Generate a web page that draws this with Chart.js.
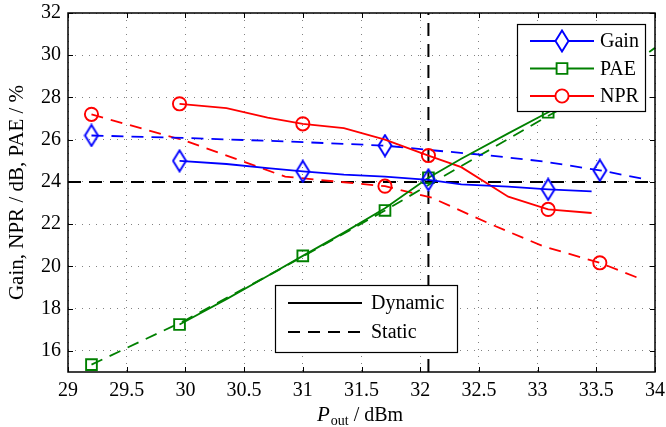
<!DOCTYPE html>
<html>
<head>
<meta charset="utf-8">
<script src="https://cdn.jsdelivr.net/npm/chart.js@4.4.0/dist/chart.umd.min.js"></script>
<style>
    html, body { margin: 0; padding: 0; background: #fff; }
</style>
</head>
<body>
<canvas id="poutChart" width="666" height="427"></canvas>
<script>
// Данные

const xTicks = [29, 29.5, 30, 30.5, 31, 31.5, 32, 32.5, 33, 33.5, 34];
const yTicks = [16, 18, 20, 22, 24, 26, 28, 30, 32];

const dynPout = [29.95, 30.35, 30.7, 31.0, 31.35, 31.7, 32.07, 32.35, 32.75, 33.09, 33.46];
const dynGain = [25.0, 24.85, 24.65, 24.5, 24.35, 24.25, 24.1, 23.88, 23.78, 23.65, 23.55];
const dynPAE  = [17.25, 18.45, 19.55, 20.5, 21.6, 22.75, 24.2, 25.1, 26.3, 27.3, 28.3];
const dynNPR  = [27.7, 27.5, 27.05, 26.75, 26.55, 26.0, 25.25, 24.7, 23.3, 22.7, 22.53];
const dynMarks = [0, 3, 6, 9];

const stPout = [29.2, 30.0, 30.85, 31.7, 32.1, 32.6, 33.05, 33.53, 33.9];
const stGain = [26.2, 26.08, 25.92, 25.72, 25.5, 25.25, 24.97, 24.55, 24.15];
const stNPR  = [27.2, 25.95, 24.25, 23.8, 23.25, 22.0, 20.95, 20.17, 19.36];
const stPAEPout = [29.2, 30.0, 30.85, 31.7, 32.1, 32.6, 33.05, 33.53, 33.9, 34.0];
const stPAE  = [15.35, 17.45, 20.0, 22.65, 23.95, 25.55, 27.0, 28.5, 29.95, 30.35];
const stMarks = [0, 3, 7];

const refGain = 24;
const refPout = 32.07;

const seriesNames = ['Gain', 'PAE', 'NPR'];
const modeNames = ['Dynamic', 'Static'];

const blue = 'rgba(0, 0, 255, 1)';
const green = 'rgba(0, 128, 0, 1)';
const red = 'rgba(255, 0, 0, 1)';
const serif = 'Liberation Serif';

// Маркер-ромб (вытянутый по вертикали)
function makeDiamond(color) {
    const c = document.createElement('canvas');
    c.width = 16;
    c.height = 24;
    const g = c.getContext('2d');
    g.strokeStyle = color;
    g.lineWidth = 1.9;
    g.beginPath();
    g.moveTo(8, 1.5); g.lineTo(14.5, 12); g.lineTo(8, 22.5); g.lineTo(1.5, 12);
    g.closePath();
    g.stroke();
    return c;
}
const diamond = makeDiamond(blue);

const markers = [
    { style: diamond, r: 8 },
    { style: 'rect', r: 7.6 },
    { style: 'circle', r: 6.6 },
];
const colors = [blue, green, red];

function series(label, xs, ys, idx, marks, dashed) {
    return {
        label: label,
        data: xs.map((x, i) => ({ x: x, y: ys[i] })),
        borderColor: colors[idx],
        borderWidth: 1.8,
        borderDash: dashed ? [12, 8] : [],
        pointStyle: markers[idx].style,
        pointRadius: ctx => marks.includes(ctx.dataIndex) ? markers[idx].r : 0,
        pointBorderColor: colors[idx],
        pointBackgroundColor: 'rgba(0, 0, 0, 0)',
        pointBorderWidth: 1.9,
        tension: 0,
        fill: false,
        order: 1,
    };
}

// Рамка, внутренние засечки, легенды, подписи осей
const decorPlugin = {
    id: 'decor',
    afterDatasetsDraw(chart) {
        const ctx = chart.ctx;
        const a = chart.chartArea;
        const sx = chart.scales.x;
        const sy = chart.scales.y;
        ctx.save();

        ctx.strokeStyle = '#000';
        ctx.lineWidth = 1.5;
        ctx.setLineDash([]);
        ctx.strokeRect(a.left, a.top, a.right - a.left, a.bottom - a.top);

        ctx.lineWidth = 1;
        ctx.beginPath();
        xTicks.forEach(v => {
            const px = Math.round(sx.getPixelForValue(v)) + 0.5;
            ctx.moveTo(px, a.bottom); ctx.lineTo(px, a.bottom - 5);
            ctx.moveTo(px, a.top); ctx.lineTo(px, a.top + 5);
        });
        yTicks.forEach(v => {
            const py = Math.round(sy.getPixelForValue(v)) + 0.5;
            ctx.moveTo(a.left, py); ctx.lineTo(a.left + 5, py);
            ctx.moveTo(a.right, py); ctx.lineTo(a.right - 5, py);
        });
        ctx.stroke();

        // Легенда 1
        ctx.fillStyle = '#fff';
        ctx.fillRect(517, 24, 128, 87);
        ctx.lineWidth = 1.2;
        ctx.strokeRect(517.5, 24.5, 128, 87);
        ctx.font = '20px ' + serif;
        ctx.textBaseline = 'middle';
        ctx.textAlign = 'left';
        seriesNames.forEach((name, i) => {
            const y = 41 + i * 27.5;
            ctx.strokeStyle = colors[i];
            ctx.lineWidth = 1.8;
            ctx.beginPath();
            ctx.moveTo(530, y); ctx.lineTo(594, y);
            ctx.stroke();
            ctx.lineWidth = 1.9;
            ctx.fillStyle = '#fff';
            ctx.beginPath();
            if (i === 0) {
                ctx.fillRect(555, y - 10, 14, 20);
                ctx.drawImage(diamond, 562 - 8, y - 12);
            } else if (i === 1) {
                ctx.rect(562 - 5.4, y - 5.4, 10.8, 10.8);
                ctx.fill(); ctx.stroke();
            } else {
                ctx.arc(562, y, 6.6, 0, Math.PI * 2);
                ctx.fill(); ctx.stroke();
            }
            ctx.fillStyle = '#000';
            ctx.fillText(name, 600, y + 1);
        });

        // Легенда 2
        ctx.fillStyle = '#fff';
        ctx.fillRect(275, 285, 182, 67);
        ctx.strokeStyle = '#000';
        ctx.lineWidth = 1.2;
        ctx.strokeRect(275.5, 285.5, 182, 67);
        modeNames.forEach((name, i) => {
            const y = 303 + i * 29;
            ctx.lineWidth = 1.8;
            ctx.setLineDash(i === 0 ? [] : [12, 8]);
            ctx.beginPath();
            ctx.moveTo(288, y); ctx.lineTo(362, y);
            ctx.stroke();
            ctx.setLineDash([]);
            ctx.fillStyle = '#000';
            ctx.fillText(name, 371, y + 1);
        });

        // Подпись оси Y
        ctx.save();
        ctx.translate(17, (a.top + a.bottom) / 2);
        ctx.rotate(-Math.PI / 2);
        ctx.textAlign = 'center';
        ctx.font = '21px ' + serif;
        ctx.fillText('Gain, NPR / dB, PAE / %', 0, 0);
        ctx.restore();

        // Подпись оси X: P_out / dBm
        ctx.textBaseline = 'alphabetic';
        const fMain = '20px ' + serif;
        const fIt = 'italic 21px ' + serif;
        const fSub = '14px ' + serif;
        ctx.font = fIt; const wP = ctx.measureText('P').width;
        ctx.font = fSub; const wS = ctx.measureText('out').width;
        ctx.font = fMain; const wR = ctx.measureText(' / dBm').width;
        let x0 = 360 - (wP + wS + wR + 1) / 2;
        const base = 421;
        ctx.font = fIt; ctx.fillText('P', x0, base); x0 += wP + 1;
        ctx.font = fSub; ctx.fillText('out', x0, base + 4); x0 += wS;
        ctx.font = fMain; ctx.fillText(' / dBm', x0, base);

        ctx.restore();
    }
};

const poutChart = document.getElementById('poutChart');

const poutData = {
    datasets: [
        series('Gain dynamic', dynPout, dynGain, 0, dynMarks, false),
        series('PAE dynamic', dynPout, dynPAE, 1, dynMarks, false),
        series('NPR dynamic', dynPout, dynNPR, 2, dynMarks, false),
        series('Gain static', stPout, stGain, 0, stMarks, true),
        series('PAE static', stPAEPout, stPAE, 1, stMarks, true),
        series('NPR static', stPout, stNPR, 2, stMarks, true),
        {
            label: 'ref level',
            data: [{ x: 29, y: refGain }, { x: 34, y: refGain }],
            borderColor: '#000', borderWidth: 2, borderDash: [13, 8],
            pointRadius: 0, order: 5,
        },
        {
            label: 'ref pout',
            data: [{ x: refPout, y: 15 }, { x: refPout, y: 32 }],
            borderColor: '#000', borderWidth: 2, borderDash: [13, 8],
            pointRadius: 0, order: 5,
        },
    ]
};

const tickFont = { family: serif, size: 20 };

const poutChartConfig = {
    type: 'line',
    data: poutData,
    options: {
        responsive: false,
        animation: false,
        events: [],
        layout: { padding: { left: 0, right: 11, top: 13, bottom: 0 } },
        plugins: {
            legend: { display: false },
            tooltip: { enabled: false },
        },
        scales: {
            x: {
                type: 'linear',
                min: 29,
                max: 34,
                afterBuildTicks: s => { s.ticks = xTicks.map(v => ({ value: v })); },
                afterFit: s => { s.height = 55; s.paddingRight = 0; s.paddingLeft = 0; },
                grid: { color: 'rgba(130, 130, 130, 1)', drawTicks: false, lineWidth: 1 },
                border: { display: false, dash: [1, 6] },
                ticks: { padding: 7, color: '#000', font: tickFont, maxRotation: 0, callback: v => String(v) },
            },
            y: {
                type: 'linear',
                min: 15,
                max: 32,
                afterBuildTicks: s => { s.ticks = yTicks.map(v => ({ value: v })); },
                afterFit: s => { s.width = 68; s.paddingTop = 0; s.paddingBottom = 0; },
                grid: { color: 'rgba(130, 130, 130, 1)', drawTicks: false, lineWidth: 1 },
                border: { display: false, dash: [1, 6] },
                ticks: { padding: 7, color: '#000', font: tickFont, callback: v => String(v) },
            },
        },
    },
    plugins: [decorPlugin],
};

new Chart(poutChart, poutChartConfig);
</script>
</body>
</html>
